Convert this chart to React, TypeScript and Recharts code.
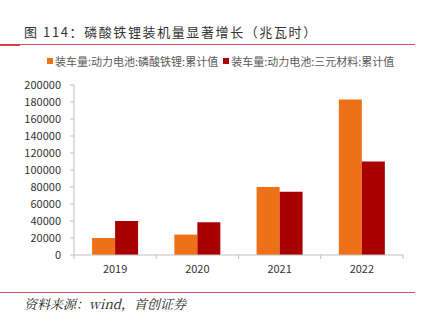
import { BarChart, Bar, XAxis, YAxis } from 'recharts'

const years = ['2019', '2020', '2021', '2022']
const lfp = [20000, 24000, 80000, 183000]
const ncm = [40000, 38500, 74500, 110000]
const yTicks = [0, 20000, 40000, 60000, 80000, 100000, 120000, 140000, 160000, 180000, 200000]

const SERIES = [
  { key: 'lfp', name: '装车量:动力电池:磷酸铁锂:累计值', color: '#EE7117' },
  { key: 'ncm', name: '装车量:动力电池:三元材料:累计值', color: '#A80000' },
]

const data = years.map((y, i) => ({ year: y, lfp: lfp[i], ncm: ncm[i] }))

const AXIS = '#BFBFBF'

function YearTick(props: any) {
  const { x, y, payload, index } = props
  const off = payload.offset ?? 0
  const left = x - off
  return (
    <g>
      <line x1={left} x2={left} y1={y - 8} y2={y - 4} stroke={AXIS} />
      {index === years.length - 1 && <line x1={x + off} x2={x + off} y1={y - 8} y2={y - 4} stroke={AXIS} />}
      <text x={x} y={y + 10} textAnchor="middle" fontSize={11} fill="#333">{payload.value}</text>
    </g>
  )
}

export default function App() {
  return (
    <div style={{ position: 'absolute', left: 0, top: 0, width: 426, height: 323, background: '#fff', fontFamily: '"Noto Sans CJK SC", sans-serif' }}>
      <div style={{ position: 'absolute', left: 24, top: 22, fontSize: 13, letterSpacing: 1.6, color: '#333', whiteSpace: 'nowrap' }}>
        图 114：磷酸铁锂装机量显著增长（兆瓦时）
      </div>
      <div style={{ position: 'absolute', left: 0, top: 44, width: 415, height: 1, background: '#D9535F' }} />
      <div style={{ position: 'absolute', left: 0, top: 44, width: 20, height: 2, background: '#E03C48' }} />

      {/* legend */}
      <div style={{ position: 'absolute', left: 47, top: 53, fontSize: 11, color: '#595959', whiteSpace: 'nowrap', display: 'flex' }}>
        {SERIES.map((s, i) => (
          <span key={s.key} style={{ display: 'inline-flex', alignItems: 'center', marginRight: i === 0 ? 5 : 0 }}>
            <span style={{ width: 6, height: 6, background: s.color, marginRight: 2, display: 'inline-block' }} />
            {s.name}
          </span>
        ))}
      </div>

      <BarChart width={426} height={323} data={data} margin={{ top: 85, right: 23, bottom: 38, left: 14 }}
        barCategoryGap="22%" barGap={0} style={{ position: 'absolute', left: 0, top: 0 }}>
        <XAxis dataKey="year" axisLine={{ stroke: AXIS }} tickLine={false} tick={<YearTick />} height={30} interval={0} />
        <YAxis domain={[0, 200000]} ticks={yTicks} interval={0} width={60} axisLine={{ stroke: AXIS }}
          tickLine={{ stroke: AXIS }} tickSize={4} tickMargin={9} tick={{ fontSize: 11, fill: '#333' }} />
        {SERIES.map((s) => (
          <Bar key={s.key} dataKey={s.key} name={s.name} fill={s.color} isAnimationActive={false} />
        ))}
      </BarChart>

      <div style={{ position: 'absolute', left: 0, top: 292, width: 415, height: 1, background: '#D9535F' }} />
      <div style={{ position: 'absolute', left: 24, top: 294, fontSize: 13, fontStyle: 'italic', color: '#222', fontFamily: '"Noto Serif CJK SC", "Liberation Serif", serif', whiteSpace: 'nowrap' }}>
        资料来源：wind，首创证券
      </div>
    </div>
  )
}
